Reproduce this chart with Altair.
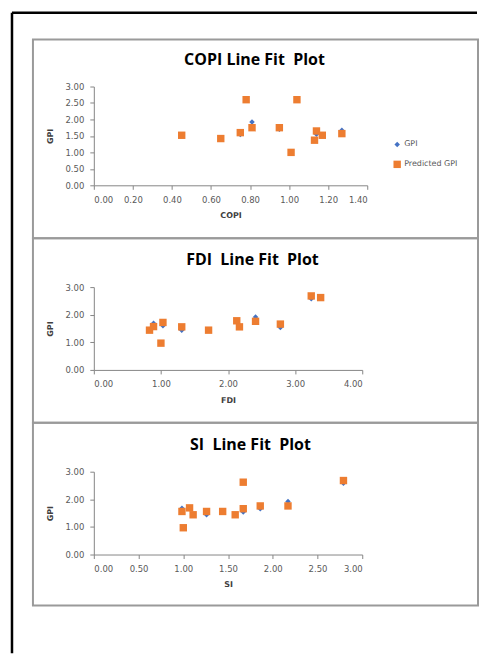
import altair as alt
import pandas as pd

# ---- data ----
series_names = ["GPI", "Predicted GPI"]
series_colors = ["#4472C4", "#ED7D31"]
series_shapes = ["diamond", "square"]

copi_x    = [0.45, 0.65, 0.75, 0.78, 0.81, 0.95, 1.01, 1.04, 1.13, 1.14, 1.17, 1.27]
copi_gpi  = [1.52, 1.42, 1.54, 2.60, 1.92, 1.70, 1.00, 2.58, 1.38, 1.55, 1.52, 1.67]
copi_pred = [1.52, 1.42, 1.60, 2.60, 1.75, 1.75, 1.00, 2.60, 1.37, 1.65, 1.52, 1.57]

fdi_x    = [0.83, 0.89, 1.00, 1.03, 1.31, 1.71, 2.13, 2.17, 2.41, 2.78, 3.24, 3.38]
fdi_gpi  = [1.44, 1.69, 0.97, 1.60, 1.44, 1.44, 1.78, 1.56, 1.92, 1.54, 2.58, 2.62]
fdi_pred = [1.44, 1.57, 0.97, 1.72, 1.56, 1.44, 1.78, 1.56, 1.76, 1.66, 2.68, 2.62]

si_x    = [0.985, 1.00, 1.07, 1.11, 1.26, 1.44, 1.58, 1.67, 1.67, 1.86, 2.17, 2.79]
si_gpi  = [1.68, 0.97, 1.69, 1.44, 1.44, 1.56, 1.44, 2.62, 1.54, 1.66, 1.92, 2.58]
si_pred = [1.56, 0.97, 1.69, 1.44, 1.56, 1.56, 1.44, 2.62, 1.66, 1.76, 1.76, 2.68]

copi_ticks = [0.0, 0.2, 0.4, 0.6, 0.8, 1.0, 1.2, 1.4]
fdi_ticks = [0.0, 1.0, 2.0, 3.0, 4.0]
si_ticks = [0.0, 0.5, 1.0, 1.5, 2.0, 2.5, 3.0]
gpi_ticks_half = [0.0, 0.5, 1.0, 1.5, 2.0, 2.5, 3.0]
gpi_ticks_one = [0.0, 1.0, 2.0, 3.0]

titles = ["COPI Line Fit \u00a0Plot", "FDI \u00a0Line Fit \u00a0Plot", "SI \u00a0Line Fit \u00a0Plot"]
x_names = ["COPI", "FDI", "SI"]

one = pd.DataFrame({"k": [0]})


def long_df(xs, gpi, pred):
    rows = []
    for xv, g in zip(xs, gpi):
        rows.append({"x": xv, "y": g, "series": series_names[0]})
    for xv, p in zip(xs, pred):
        rows.append({"x": xv, "y": p, "series": series_names[1]})
    return pd.DataFrame(rows)


def panel(df, xname, xmax, xticks, yticks, w, h, frame_top, frame_bottom,
          title, title_x, leg_x, leg_y, extra=None):
    frame = alt.Chart(one).mark_rect(fill="white", fillOpacity=0, stroke="#9a9a9a", strokeWidth=2).encode(
        x=alt.value(-61), x2=alt.value(385), y=alt.value(frame_top), y2=alt.value(frame_bottom)
    )
    ttl = alt.Chart(one).mark_text(
        text=title, font="Open Sans", fontSize=16, fontWeight="bold", color="#000000",
        align="center", baseline="alphabetic"
    ).encode(x=alt.value(title_x), y=alt.value(-22))
    leg = alt.Legend(title=None, orient="none", legendX=leg_x, legendY=leg_y)
    pts = alt.Chart(df).mark_point(filled=True, opacity=1).encode(
        x=alt.X("x:Q", scale=alt.Scale(domain=[0, xmax], nice=False, zero=True),
                axis=alt.Axis(values=xticks, format=".2f", title=xname)),
        y=alt.Y("y:Q", scale=alt.Scale(domain=[0, 3], nice=False),
                axis=alt.Axis(values=yticks, format=".2f", title="GPI")),
        color=alt.Color("series:N", scale=alt.Scale(domain=series_names, range=series_colors), legend=leg),
        shape=alt.Shape("series:N", scale=alt.Scale(domain=series_names, range=series_shapes), legend=leg),
        size=alt.Size("series:N", scale=alt.Scale(type="point", domain=series_names, range=[30, 55]), legend=leg),
    )
    layers = [frame]
    if extra is not None:
        layers = extra + layers
    layers += [ttl, pts]
    return alt.layer(*layers).properties(width=w, height=h)


black_top = alt.Chart(one).mark_rule(color="#000000", strokeWidth=2.5).encode(
    x=alt.value(-82), x2=alt.value(384), y=alt.value(-74)
)
black_left = alt.Chart(one).mark_rule(color="#000000", strokeWidth=2.5).encode(
    x=alt.value(-82), y=alt.value(-74), y2=alt.value(568)
)

p1 = panel(long_df(copi_x, copi_gpi, copi_pred), x_names[0], 1.4, copi_ticks, gpi_ticks_half,
           274, 99, -47, 152, titles[0], 161, 300, 54, extra=[black_top, black_left])
p2 = panel(long_df(fdi_x, fdi_gpi, fdi_pred), x_names[1], 4.0, fdi_ticks, gpi_ticks_one,
           269, 83, -49, 136, titles[1], 159, 296, 46)
p3 = panel(long_df(si_x, si_gpi, si_pred), x_names[2], 3.0, si_ticks, gpi_ticks_one,
           269, 83, -49, 134, titles[2], 157, 296, 46)

chart = alt.vconcat(p1, p2, p3, spacing=102, bounds="flush").properties(
    padding={"left": 2, "top": 2, "right": 0, "bottom": 0}
).configure_view(
    stroke="transparent"
).configure_axis(
    grid=False,
    domainColor="#868686", domainWidth=1,
    tickColor="#868686", tickWidth=1, tickSize=4,
    labelFont="DejaVu Sans", labelFontSize=8.5, labelColor="#595959", labelPadding=6,
    titleFont="DejaVu Sans", titleFontSize=8, titleFontWeight="bold", titleColor="#404040",
).configure_axisX(
    titlePadding=8
).configure_axisY(
    titlePadding=10
).configure_legend(
    labelFont="DejaVu Sans", labelFontSize=8, labelColor="#595959",
    symbolStrokeWidth=0, padding=0, rowPadding=12, labelOffset=3
)

chart.save("out.html", embed_options={"renderer": "svg", "actions": False})
